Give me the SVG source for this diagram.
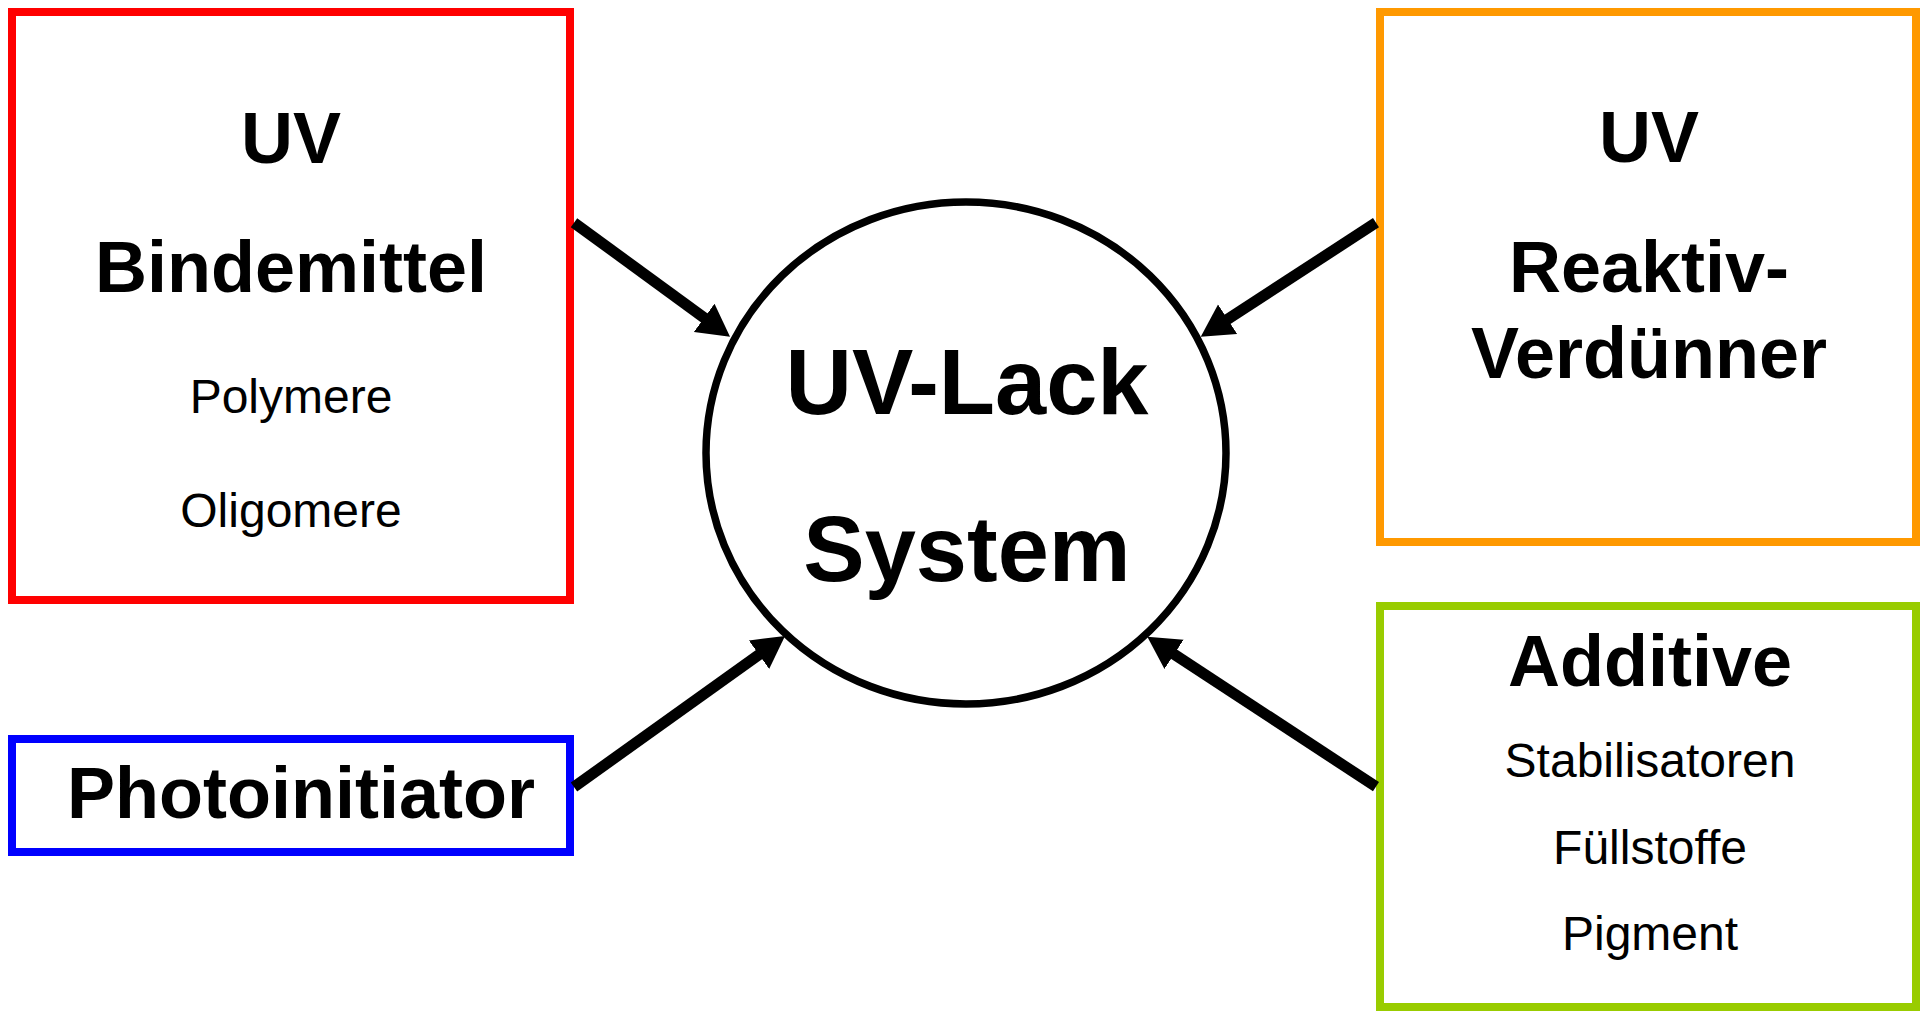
<svg xmlns="http://www.w3.org/2000/svg" width="1920" height="1011" viewBox="0 0 1920 1011">
  <style>
    .box { fill: #ffffff; stroke-width: 8; }
    .t { font-family: "Liberation Sans", Arial, sans-serif; fill: #000000; text-anchor: middle; }
    .b72 { font-size: 72px; font-weight: bold; }
    .b92 { font-size: 92px; font-weight: bold; }
    .r48 { font-size: 48px; }
    .conn { stroke: #000000; stroke-width: 11; fill: none; marker-end: url(#arrow); }
  </style>
  <defs>
    <marker id="arrow" markerUnits="userSpaceOnUse" viewBox="0 -18 33 36" markerWidth="33" markerHeight="36" refX="2" refY="0" orient="auto">
      <path d="M0,-17.5 L32,0 L0,17.5 z" fill="#000000"/>
    </marker>
  </defs>
  <rect width="1920" height="1011" fill="#ffffff"/>

  <g id="node-bindemittel">
    <rect class="box" x="12" y="12" width="558" height="588" stroke="#FF0000"/>
    <text class="t b72" x="291" y="163">UV</text>
    <text class="t b72" x="291" y="292">Bindemittel</text>
    <text class="t r48" x="291" y="413">Polymere</text>
    <text class="t r48" x="291" y="527">Oligomere</text>
  </g>

  <g id="node-reaktivverduenner">
    <rect class="box" x="1380" y="12" width="536" height="530" stroke="#FF9900"/>
    <text class="t b72" x="1649" y="162">UV</text>
    <text class="t b72" x="1649" y="292">Reaktiv-</text>
    <text class="t b72" x="1649" y="378">Verdünner</text>
  </g>

  <g id="node-photoinitiator">
    <rect class="box" x="12" y="739" width="558" height="113" stroke="#0000FF"/>
    <text class="t b72" x="301" y="818">Photoinitiator</text>
  </g>

  <g id="node-additive">
    <rect class="box" x="1380" y="606" width="536" height="401" stroke="#99CC00"/>
    <text class="t b72" x="1650" y="686">Additive</text>
    <text class="t r48" x="1650" y="777">Stabilisatoren</text>
    <text class="t r48" x="1650" y="864">Füllstoffe</text>
    <text class="t r48" x="1650" y="950">Pigment</text>
  </g>

  <g id="node-uvlack">
    <ellipse cx="966" cy="453" rx="260" ry="251" fill="#ffffff" stroke="#000000" stroke-width="7.5"/>
    <text class="t b92" x="967" y="414">UV-Lack</text>
    <text class="t b92" x="967" y="581">System</text>
  </g>

  <g id="connectors">
    <path class="conn" d="M574,222.7 L705.8,319"/>
    <path class="conn" d="M1376,222.7 L1225.9,320.3"/>
    <path class="conn" d="M574,787 L760.6,653.5"/>
    <path class="conn" d="M1376,786.7 L1172.4,653.2"/>
  </g>
</svg>
